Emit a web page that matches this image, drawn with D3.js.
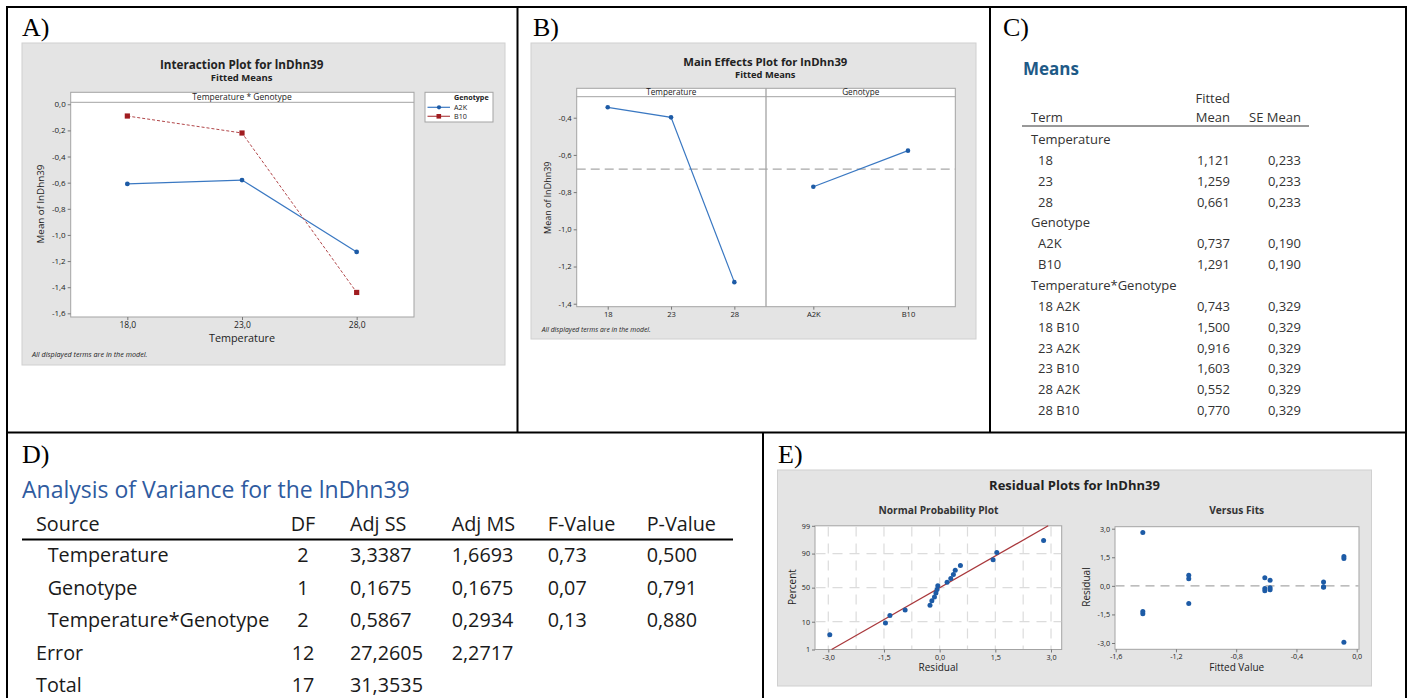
<!DOCTYPE html>
<html>
<head>
<meta charset="utf-8">
<style>
  body { margin: 0; background: #fff; }
  svg { display: block; }
</style>
<script src="https://d3js.org/d3.v7.min.js"></script>
</head>
<body>
<div id="fig"></div>
<script>
"use strict";

// ---- data ----
var temps = [18, 23, 28];
var genotypes = ["A2K", "B10"];

// A) interaction plot, fitted means of lnDhn39
var a2kFit = [-0.61, -0.58, -1.13];
var b10Fit = [-0.09, -0.22, -1.44];
var interTicks = [0, -0.2, -0.4, -0.6, -0.8, -1.0, -1.2, -1.4, -1.6];

// B) main effects
var tempMain = [-0.344, -0.398, -1.284];
var genoMain = [-0.771, -0.577];
var grandMean = -0.676;
var mainTicks = [-0.4, -0.6, -0.8, -1.0, -1.2, -1.4];

// C) means table
var meanTerms = ["Temperature", "18", "23", "28", "Genotype", "A2K", "B10",
  "Temperature*Genotype", "18 A2K", "18 B10", "23 A2K", "23 B10", "28 A2K", "28 B10"];
var fittedMean = [null, 1.121, 1.259, 0.661, null, 0.737, 1.291,
  null, 0.743, 1.500, 0.916, 1.603, 0.552, 0.770];
var seMean = [null, 0.233, 0.233, 0.233, null, 0.190, 0.190,
  null, 0.329, 0.329, 0.329, 0.329, 0.329, 0.329];

// D) analysis of variance
var anovaSource = ["Temperature", "Genotype", "Temperature*Genotype", "Error", "Total"];
var anovaDF = [2, 1, 2, 12, 17];
var anovaSS = [3.3387, 0.1675, 0.5867, 27.2605, 31.3535];
var anovaMS = [1.6693, 0.1675, 0.2934, 2.2717, null];
var anovaF = [0.73, 0.07, 0.13, null, null];
var anovaP = [0.500, 0.791, 0.880, null, null];

// E) residuals, one per observation, with its fitted value
var obsFit = [-1.42, -1.42, -1.42, -1.115, -1.115, -1.115, -0.61, -0.61, -0.61,
  -0.575, -0.575, -0.575, -0.22, -0.22, -0.22, -0.085, -0.085, -0.085];
var obsResid = [2.80, -1.46, -1.34, 0.56, 0.37, -0.93, 0.42, -0.26, -0.14,
  0.30, -0.21, -0.10, 0.20, -0.07, -0.05, 1.54, 1.44, -2.96];
var pctTicks = [1, 10, 50, 90, 99];
var residTicks = [-3, -1.5, 0, 1.5, 3];
var fitTicks = [-1.6, -1.2, -0.8, -0.4, 0];

// ---- style ----
var SANS = "'Open Sans', 'Noto Sans', sans-serif";
var SERIF = "'Liberation Serif', 'DejaVu Serif', serif";
var GRAY = "#e4e4e4";
var FRAME = "#a3a3a3";
var BLUE = "#1d5ba6";
var BLUE_LINE = "#3a78c2";
var RED = "#a01c20";
var INK = "#222";

var loc = d3.formatLocale({decimal: ",", thousands: ".", grouping: [3], currency: ["", ""], minus: "-"});
var f1 = loc.format(".1f"), f2 = loc.format(".2f"), f3 = loc.format(".3f"), f4 = loc.format(".4f");

var svg = d3.select("#fig").append("svg")
  .attr("width", 1409).attr("height", 698)
  .attr("font-family", SANS);

// table cell borders
var borders = [[6, 7, 1407, 7], [6, 432.5, 1407, 432.5], [7, 7, 7, 698],
  [517.5, 7, 517.5, 432.5], [990, 7, 990, 432.5], [1406, 7, 1406, 698], [763, 432.5, 763, 698]];
svg.selectAll("line.border").data(borders).enter().append("line")
  .attr("x1", d => d[0]).attr("y1", d => d[1]).attr("x2", d => d[2]).attr("y2", d => d[3])
  .attr("stroke", "#000").attr("stroke-width", 2);

var letters = [["A)", 22, 36], ["B)", 533, 36], ["C)", 1003, 36], ["D)", 22, 463], ["E)", 778, 463]];
svg.selectAll("text.letter").data(letters).enter().append("text")
  .attr("x", d => d[1]).attr("y", d => d[2]).text(d => d[0])
  .attr("font-family", SERIF).attr("font-size", 26).attr("fill", "#000");

function styleAxis(g, size) {
  g.attr("font-family", SANS).attr("font-size", size);
  g.select(".domain").remove();
  g.selectAll("line").attr("stroke", "#777");
  g.selectAll("text").attr("fill", INK);
}

function label(g, x, y, txt, size, opts) {
  opts = opts || {};
  var t = g.append("text").attr("x", x).attr("y", y).text(txt)
    .attr("font-size", size).attr("fill", opts.fill || INK)
    .attr("text-anchor", opts.anchor || "middle");
  if (opts.bold) t.attr("font-weight", "bold");
  if (opts.italic) t.attr("font-style", "italic");
  if (opts.rotate) t.attr("transform", "rotate(-90," + x + "," + y + ")");
  return t;
}

// ================= A) Interaction plot =================
var gA = svg.append("g");
gA.append("rect").attr("x", 22).attr("y", 43).attr("width", 483).attr("height", 322)
  .attr("fill", GRAY).attr("stroke", "#d0d0d0");
var xA = d3.scaleLinear().domain([15.53, 30.5]).range([70.7, 414]);
var yA = d3.scaleLinear().domain([-1.628, 0.015]).range([317, 102.3]);

gA.append("rect").attr("x", 70.7).attr("y", 92.3).attr("width", 343.3).attr("height", 224.7)
  .attr("fill", "#fff").attr("stroke", FRAME);
gA.append("line").attr("x1", 70.7).attr("x2", 414).attr("y1", 102.3).attr("y2", 102.3).attr("stroke", FRAME);
label(gA, 242, 100.3, "Temperature * Genotype", 8.5);

gA.append("g").attr("transform", "translate(70.7,0)")
  .call(d3.axisLeft(yA).tickValues(interTicks).tickSize(3).tickPadding(2).tickFormat(f1))
  .call(styleAxis, 8);
gA.append("g").attr("transform", "translate(0,317)")
  .call(d3.axisBottom(xA).tickValues(temps).tickSize(3).tickPadding(2).tickFormat(f1))
  .call(styleAxis, 8.5);

label(gA, 241.7, 69, "Interaction Plot for lnDhn39", 11.7, {bold: true});
label(gA, 241.7, 81, "Fitted Means", 9.5, {bold: true});
label(gA, 43.5, 204, "Mean of lnDhn39", 9.8, {rotate: true});
label(gA, 242, 341.7, "Temperature", 10.8);
label(gA, 32, 356.5, "All displayed terms are in the model.", 7.2, {anchor: "start", italic: true});

var lineA = d3.line().x((d, i) => xA(temps[i])).y(d => yA(d));
gA.append("path").datum(a2kFit).attr("d", lineA).attr("fill", "none")
  .attr("stroke", BLUE_LINE).attr("stroke-width", 1.2);
gA.append("path").datum(b10Fit).attr("d", lineA).attr("fill", "none")
  .attr("stroke", "#b2474a").attr("stroke-width", 1).attr("stroke-dasharray", "3,2");
gA.selectAll("circle.a2k").data(a2kFit).enter().append("circle")
  .attr("cx", (d, i) => xA(temps[i])).attr("cy", d => yA(d)).attr("r", 2.4).attr("fill", BLUE);
gA.selectAll("rect.b10").data(b10Fit).enter().append("rect")
  .attr("x", (d, i) => xA(temps[i]) - 2.6).attr("y", d => yA(d) - 2.6)
  .attr("width", 5.2).attr("height", 5.2).attr("fill", RED);

// legend
var lg = gA.append("g");
lg.append("rect").attr("x", 425).attr("y", 92.3).attr("width", 68).attr("height", 29.7)
  .attr("fill", "#fff").attr("stroke", FRAME);
label(lg, 454, 100, "Genotype", 7.2, {anchor: "start", bold: true});
genotypes.forEach(function (g, i) {
  var y = 107.3 + i * 9;
  lg.append("line").attr("x1", 427.5).attr("x2", 450).attr("y1", y).attr("y2", y)
    .attr("stroke", i ? "#b2474a" : BLUE_LINE).attr("stroke-width", 1.2);
  if (i) lg.append("rect").attr("x", 436.5).attr("y", y - 2.3).attr("width", 4.6).attr("height", 4.6).attr("fill", RED);
  else lg.append("circle").attr("cx", 439).attr("cy", y).attr("r", 2.1).attr("fill", BLUE);
  label(lg, 454, y + 2.6, g, 7.2, {anchor: "start"});
});

// ================= B) Main effects plot =================
var gB = svg.append("g");
gB.append("rect").attr("x", 531).attr("y", 43).attr("width", 445).attr("height", 296)
  .attr("fill", GRAY).attr("stroke", "#d0d0d0");
var xB1 = d3.scaleLinear().domain([15.55, 30.5]).range([576.7, 766]);
var xB2 = d3.scalePoint().domain(genotypes).range([766, 955.3]).padding(0.5);
var yB = d3.scaleLinear().domain([-1.416, -0.287]).range([306.7, 96.7]);

gB.append("rect").attr("x", 576.7).attr("y", 88.3).attr("width", 378.6).attr("height", 218.4)
  .attr("fill", "#fff").attr("stroke", FRAME);
gB.append("line").attr("x1", 576.7).attr("x2", 955.3).attr("y1", 96.7).attr("y2", 96.7).attr("stroke", FRAME);
gB.append("line").attr("x1", 766).attr("x2", 766).attr("y1", 88.3).attr("y2", 306.7).attr("stroke", FRAME).attr("stroke-width", 1.3);
label(gB, 671.3, 94.6, "Temperature", 8.2);
label(gB, 860.7, 94.6, "Genotype", 8.2);

gB.append("line").attr("x1", 576.7).attr("x2", 955.3)
  .attr("y1", yB(grandMean)).attr("y2", yB(grandMean))
  .attr("stroke", "#a8a8a8").attr("stroke-width", 1.2).attr("stroke-dasharray", "9,5");

gB.append("g").attr("transform", "translate(576.7,0)")
  .call(d3.axisLeft(yB).tickValues(mainTicks).tickSize(3).tickPadding(2).tickFormat(f1))
  .call(styleAxis, 7.6);
gB.append("g").attr("transform", "translate(0,306.7)")
  .call(d3.axisBottom(xB1).tickValues(temps).tickSize(3).tickPadding(2).tickFormat(d3.format("d")))
  .call(styleAxis, 7.6);
gB.append("g").attr("transform", "translate(0,306.7)")
  .call(d3.axisBottom(xB2).tickSize(3).tickPadding(2))
  .call(styleAxis, 7.6);

label(gB, 765.3, 65.7, "Main Effects Plot for lnDhn39", 11.3, {bold: true});
label(gB, 765.3, 77.5, "Fitted Means", 9.3, {bold: true});
label(gB, 551, 197.7, "Mean of lnDhn39", 9, {rotate: true});
label(gB, 541.7, 331.5, "All displayed terms are in the model.", 6.8, {anchor: "start", italic: true});

var lineT = d3.line().x((d, i) => xB1(temps[i])).y(d => yB(d));
var lineG = d3.line().x((d, i) => xB2(genotypes[i])).y(d => yB(d));
gB.append("path").datum(tempMain).attr("d", lineT).attr("fill", "none").attr("stroke", BLUE_LINE).attr("stroke-width", 1.2);
gB.append("path").datum(genoMain).attr("d", lineG).attr("fill", "none").attr("stroke", BLUE_LINE).attr("stroke-width", 1.2);
gB.selectAll("circle.t").data(tempMain).enter().append("circle")
  .attr("cx", (d, i) => xB1(temps[i])).attr("cy", d => yB(d)).attr("r", 2.3).attr("fill", BLUE);
gB.selectAll("circle.g").data(genoMain).enter().append("circle")
  .attr("cx", (d, i) => xB2(genotypes[i])).attr("cy", d => yB(d)).attr("r", 2.3).attr("fill", BLUE);

// ================= C) Means table =================
var gC = svg.append("g").attr("fill", "#333");
label(gC, 1023, 75, "Means", 17, {anchor: "start", fill: "#1e5a87", bold: true});
label(gC, 1230, 102.7, "Fitted", 13, {anchor: "end", fill: "#333"});
label(gC, 1031, 121.7, "Term", 13, {anchor: "start", fill: "#333"});
label(gC, 1230, 121.7, "Mean", 13, {anchor: "end", fill: "#333"});
label(gC, 1301, 121.7, "SE Mean", 13, {anchor: "end", fill: "#333"});
gC.append("line").attr("x1", 1022).attr("x2", 1309).attr("y1", 126).attr("y2", 126).attr("stroke", "#333").attr("stroke-width", 1);
meanTerms.forEach(function (t, i) {
  var y = 144 + i * 20.85;
  var head = fittedMean[i] === null;
  label(gC, head ? 1031 : 1038, y, t, 13, {anchor: "start", fill: "#333"});
  if (!head) {
    label(gC, 1230, y, f3(fittedMean[i]), 13, {anchor: "end", fill: "#333"});
    label(gC, 1301, y, f3(seMean[i]), 13, {anchor: "end", fill: "#333"});
  }
});

// ================= D) ANOVA table =================
var gD = svg.append("g");
label(gD, 22, 498, "Analysis of Variance for the lnDhn39", 23, {anchor: "start", fill: "#2f5b9f"});
var colX = [36, 303, 350, 451.7, 547.7, 646.7];
var heads = ["Source", "DF", "Adj SS", "Adj MS", "F-Value", "P-Value"];
heads.forEach(function (h, j) {
  label(gD, colX[j], 531, h, 19.8, {anchor: j === 1 ? "middle" : "start", fill: "#1a1a1a"});
});
gD.append("line").attr("x1", 22).attr("x2", 733).attr("y1", 539.5).attr("y2", 539.5).attr("stroke", "#000").attr("stroke-width", 2);
anovaSource.forEach(function (s, i) {
  var y = 562.3 + i * 32.5;
  var cells = [s, String(anovaDF[i]), f4(anovaSS[i]),
    anovaMS[i] === null ? "" : f4(anovaMS[i]),
    anovaF[i] === null ? "" : f2(anovaF[i]),
    anovaP[i] === null ? "" : f3(anovaP[i])];
  cells.forEach(function (c, j) {
    var x = j === 0 ? (i < 3 ? 47.7 : 36) : colX[j];
    label(gD, x, y, c, 19.8, {anchor: j === 1 ? "middle" : "start", fill: "#1a1a1a"});
  });
});

// ================= E) Residual plots =================
var gE = svg.append("g");
gE.append("rect").attr("x", 777.5).attr("y", 470).attr("width", 594).attr("height", 216)
  .attr("fill", GRAY).attr("stroke", "#d0d0d0");
label(gE, 1074.5, 490, "Residual Plots for lnDhn39", 13, {bold: true});

function probit(p) {
  var a = [-3.969683028665376e+01, 2.209460984245205e+02, -2.759285104469687e+02, 1.383577518672690e+02, -3.066479806614716e+01, 2.506628277459239e+00];
  var b = [-5.447609879822406e+01, 1.615858368580409e+02, -1.556989798598866e+02, 6.680131188771972e+01, -1.328068155288572e+01];
  var c = [-7.784894002430293e-03, -3.223964580411365e-01, -2.400758277161838e+00, -2.549732539343734e+00, 4.374664141464968e+00, 2.938163982698783e+00];
  var d = [7.784695709041462e-03, 3.224671290700398e-01, 2.445134137142996e+00, 3.754408661907416e+00];
  var q, r;
  if (p < 0.02425 || p > 0.97575) {
    q = Math.sqrt(-2 * Math.log(p < 0.5 ? p : 1 - p));
    var v = (((((c[0] * q + c[1]) * q + c[2]) * q + c[3]) * q + c[4]) * q + c[5]) / ((((d[0] * q + d[1]) * q + d[2]) * q + d[3]) * q + 1);
    return p < 0.5 ? v : -v;
  }
  q = p - 0.5; r = q * q;
  return (((((a[0] * r + a[1]) * r + a[2]) * r + a[3]) * r + a[4]) * r + a[5]) * q / (((((b[0] * r + b[1]) * r + b[2]) * r + b[3]) * r + b[4]) * r + 1);
}

// normal probability plot
var xN = d3.scaleLinear().domain([-3.358, 3.288]).range([815, 1061.7]);
var yN = d3.scaleLinear().domain([probit(0.01), probit(0.99)]).range([649.5, 525.8]);
gE.append("rect").attr("x", 815).attr("y", 525.8).attr("width", 246.7).attr("height", 123.7)
  .attr("fill", "#fff").attr("stroke", FRAME);
var gridN = gE.append("g").attr("stroke", "#dcdcdc").attr("stroke-width", 1.2).attr("stroke-dasharray", "10,7");
gridN.selectAll("line.v").data(d3.range(-3, 3.01, 0.75)).enter().append("line")
  .attr("x1", d => xN(d)).attr("x2", d => xN(d)).attr("y1", 526.5).attr("y2", 649);
gridN.selectAll("line.h").data([10, 50, 90]).enter().append("line")
  .attr("x1", 815.5).attr("x2", 1061.2).attr("y1", d => yN(probit(d / 100))).attr("y2", d => yN(probit(d / 100)));

gE.append("g").attr("transform", "translate(815,0)")
  .call(d3.axisLeft(yN).tickValues(pctTicks.map(p => probit(p / 100))).tickSize(3).tickPadding(2)
    .tickFormat((d, i) => pctTicks[i]))
  .call(styleAxis, 7.2);
gE.append("g").attr("transform", "translate(0,649.5)")
  .call(d3.axisBottom(xN).tickValues(residTicks).tickSize(3).tickPadding(2).tickFormat(f1))
  .call(styleAxis, 7.2);

var sorted = obsResid.slice().sort(d3.ascending);
var n = sorted.length;
var mu = d3.mean(obsResid), sd = d3.deviation(obsResid);
gE.append("line")
  .attr("x1", xN(mu + sd * probit(0.01))).attr("y1", yN(probit(0.01)))
  .attr("x2", xN(mu + sd * probit(0.99))).attr("y2", yN(probit(0.99)))
  .attr("stroke", "#a9383c").attr("stroke-width", 1.3);
gE.selectAll("circle.np").data(sorted).enter().append("circle")
  .attr("cx", d => xN(d)).attr("cy", (d, i) => yN(probit((i + 1 - 0.3) / (n + 0.4))))
  .attr("r", 2.5).attr("fill", BLUE);

label(gE, 938.5, 514, "Normal Probability Plot", 10.2, {bold: true, fill: "#333"});
label(gE, 795.5, 587, "Percent", 10, {rotate: true});
label(gE, 938.3, 670.7, "Residual", 10);

// versus fits
var xV = d3.scaleLinear().domain([-1.6047, 0.0153]).range([1115, 1359]);
var yV = d3.scaleLinear().domain([-3.33, 3.105]).range([649.3, 526.7]);
gE.append("rect").attr("x", 1115).attr("y", 526.7).attr("width", 244).attr("height", 122.6)
  .attr("fill", "#fff").attr("stroke", FRAME);
gE.append("line").attr("x1", 1115.5).attr("x2", 1358.5).attr("y1", yV(0)).attr("y2", yV(0))
  .attr("stroke", "#a8a8a8").attr("stroke-width", 1.3).attr("stroke-dasharray", "9,6");
gE.append("g").attr("transform", "translate(1115,0)")
  .call(d3.axisLeft(yV).tickValues(residTicks).tickSize(3).tickPadding(2).tickFormat(f1))
  .call(styleAxis, 7.2);
gE.append("g").attr("transform", "translate(0,649.3)")
  .call(d3.axisBottom(xV).tickValues(fitTicks).tickSize(3).tickPadding(2).tickFormat(f1))
  .call(styleAxis, 7.2);
gE.selectAll("circle.vf").data(obsResid).enter().append("circle")
  .attr("cx", (d, i) => xV(obsFit[i])).attr("cy", d => yV(d))
  .attr("r", 2.5).attr("fill", BLUE);

label(gE, 1236.7, 514, "Versus Fits", 10.2, {bold: true, fill: "#333"});
label(gE, 1090, 587, "Residual", 10, {rotate: true});
label(gE, 1236.7, 670.7, "Fitted Value", 10);
</script>
</body>
</html>
